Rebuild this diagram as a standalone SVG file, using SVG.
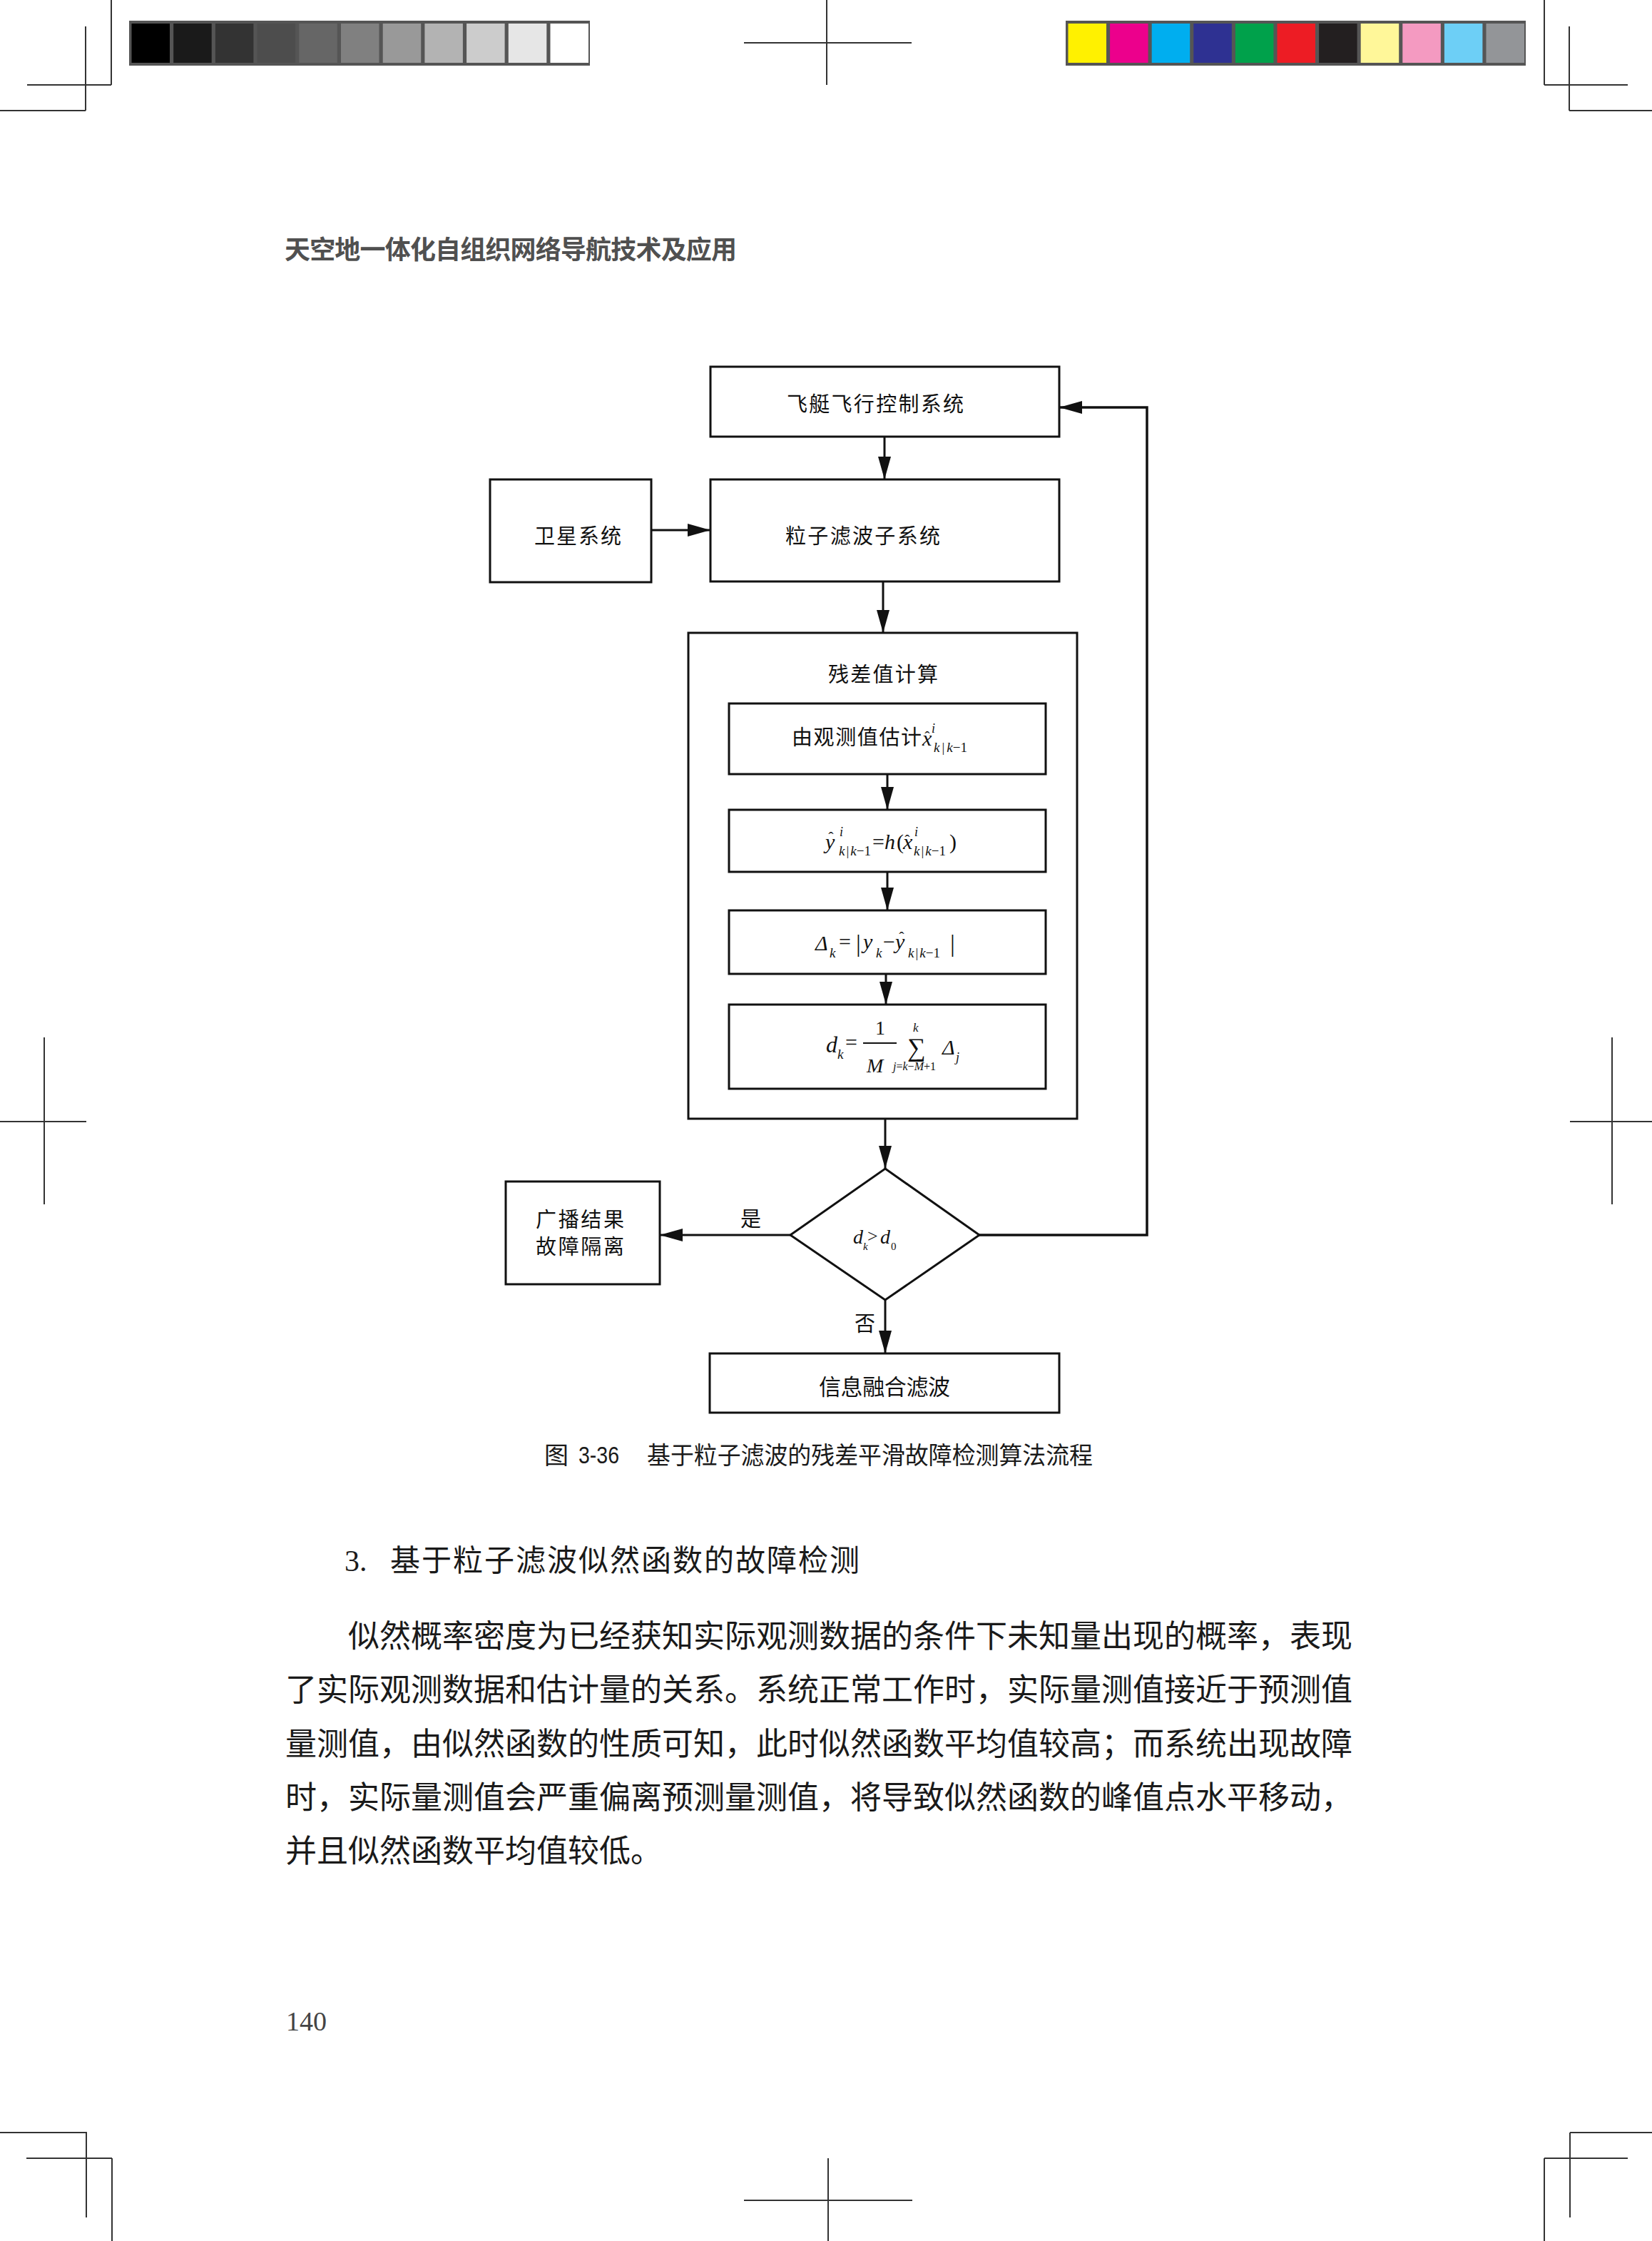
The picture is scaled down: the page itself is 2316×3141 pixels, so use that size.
<svg xmlns="http://www.w3.org/2000/svg" width="2316" height="3141" viewBox="0 0 2316 3141">
<style>
.box{fill:none;stroke:#111;stroke-width:3}
.conn{fill:none;stroke:#111;stroke-width:3}
.crop{stroke:#333;stroke-width:2;fill:none}
.cn{font-family:"Noto Sans CJK SC","Noto Sans CJK TC",sans-serif;fill:#111}
.mi{font-family:"Liberation Serif",serif;font-style:italic;fill:#111}
.mr{font-family:"Liberation Serif",serif;font-style:normal;fill:#111}
.body{font-family:"Noto Sans CJK SC",sans-serif;font-size:44px;fill:#1a1a1a}
</style>
<defs>
<marker id="arr" markerUnits="userSpaceOnUse" markerWidth="32" markerHeight="18" refX="32" refY="9" orient="auto">
<path d="M0,0 L32,9 L0,18 Z" fill="#111"/>
</marker>
</defs>
<rect width="2316" height="3141" fill="#fff"/>

<g id="crop-marks">
<path class="crop" d="M156,0 V119 M38,119 H156 M120,37 V155 M0,155 H120"/>
<path class="crop" d="M1159,0 V119 M1043,60 H1278"/>
<path class="crop" d="M2165,0 V119 M2165,119 H2282 M2200,37 V155 M2200,155 H2316"/>
<path class="crop" d="M62,1454 V1688 M0,1572 H121"/>
<path class="crop" d="M2260,1454 V1688 M2201,1572 H2316"/>
<path class="crop" d="M0,2989 H121 V3108 M37,3025 H157 M157,3025 V3141"/>
<path class="crop" d="M1161,3025 V3141 M1043,3084 H1279"/>
<path class="crop" d="M2201,2989 H2316 M2201,2989 V3108 M2165,3025 H2282 M2165,3025 V3141"/>
</g>

<g id="gray-bar">
<rect x="181" y="29" width="646" height="63" fill="#555"/>
<rect x="184.5" y="33" width="53.5" height="55" fill="#000"/>
<rect x="243.2" y="33" width="53.5" height="55" fill="#1a1a1a"/>
<rect x="301.9" y="33" width="53.5" height="55" fill="#333"/>
<rect x="360.6" y="33" width="53.5" height="55" fill="#4d4d4d"/>
<rect x="419.3" y="33" width="53.5" height="55" fill="#666"/>
<rect x="478" y="33" width="53.5" height="55" fill="#808080"/>
<rect x="536.7" y="33" width="53.5" height="55" fill="#999"/>
<rect x="595.4" y="33" width="53.5" height="55" fill="#b3b3b3"/>
<rect x="654.1" y="33" width="53.5" height="55" fill="#ccc"/>
<rect x="712.8" y="33" width="53.5" height="55" fill="#e6e6e6"/>
<rect x="771.5" y="33" width="53.5" height="55" fill="#fff"/>
</g>
<g id="color-bar">
<rect x="1494" y="29" width="645" height="63" fill="#555"/>
<rect x="1497.5" y="33" width="53.5" height="55" fill="#fff100"/>
<rect x="1556.1" y="33" width="53.5" height="55" fill="#ec008c"/>
<rect x="1614.7" y="33" width="53.5" height="55" fill="#00aeef"/>
<rect x="1673.3" y="33" width="53.5" height="55" fill="#2e3192"/>
<rect x="1731.9" y="33" width="53.5" height="55" fill="#00a14b"/>
<rect x="1790.5" y="33" width="53.5" height="55" fill="#ed1c24"/>
<rect x="1849.1" y="33" width="53.5" height="55" fill="#231f20"/>
<rect x="1907.7" y="33" width="53.5" height="55" fill="#fff799"/>
<rect x="1966.3" y="33" width="53.5" height="55" fill="#f49ac1"/>
<rect x="2024.9" y="33" width="53.5" height="55" fill="#6dcff6"/>
<rect x="2083.5" y="33" width="53.5" height="55" fill="#939598"/>
</g>

<text id="header" x="399" y="363" font-family="Noto Sans CJK SC, sans-serif" font-weight="700" font-size="36" fill="#505050" textLength="634" lengthAdjust="spacing">天空地一体化自组织网络导航技术及应用</text>

<g id="connectors">
<line class="conn" x1="1240" y1="612" x2="1240" y2="672" marker-end="url(#arr)"/>
<line class="conn" x1="913" y1="743" x2="996" y2="743" marker-end="url(#arr)"/>
<line class="conn" x1="1238" y1="815" x2="1238" y2="887" marker-end="url(#arr)"/>
<line class="conn" x1="1244" y1="1085" x2="1244" y2="1135" marker-end="url(#arr)"/>
<line class="conn" x1="1244" y1="1222" x2="1244" y2="1276" marker-end="url(#arr)"/>
<line class="conn" x1="1242" y1="1365" x2="1242" y2="1408" marker-end="url(#arr)"/>
<line class="conn" x1="1241" y1="1568" x2="1241" y2="1638" marker-end="url(#arr)"/>
<line class="conn" x1="1108" y1="1731" x2="925" y2="1731" marker-end="url(#arr)"/>
<line class="conn" x1="1241" y1="1822" x2="1241" y2="1897" marker-end="url(#arr)"/>
<polyline class="conn" style="stroke-width:3.5" points="1373,1731 1608,1731 1608,571 1485,571" marker-end="url(#arr)"/>
<text class="cn" x="1038" y="1719" font-size="29">是</text>
<text class="cn" x="1198" y="1866" font-size="29">否</text>
</g>

<g id="node-airship">
<rect class="box" x="996" y="514" width="489" height="98"/>
<text class="cn" x="1103" y="577" font-size="29" textLength="248" lengthAdjust="spacing">飞艇飞行控制系统</text>
</g>
<g id="node-pf">
<rect class="box" x="996" y="672" width="489" height="143"/>
<text class="cn" x="1101" y="762" font-size="29" textLength="217" lengthAdjust="spacing">粒子滤波子系统</text>
</g>
<g id="node-sat">
<rect class="box" x="687" y="672" width="226" height="144"/>
<text class="cn" x="749" y="762" font-size="29" textLength="122" lengthAdjust="spacing">卫星系统</text>
</g>

<g id="node-residual">
<rect class="box" x="965" y="887" width="545" height="681"/>
<text class="cn" x="1161" y="956" font-size="29" textLength="154" lengthAdjust="spacing">残差值计算</text>
</g>

<g id="node-step1">
<rect class="box" x="1022" y="986" width="444" height="99"/>
<text class="cn" x="1110" y="1044" font-size="29" textLength="182" lengthAdjust="spacing">由观测值估计</text>
<text class="mi" x="1293" y="1045" font-size="30">x</text>
<text class="mr" x="1300" y="1040" font-size="22" text-anchor="middle">ˆ</text>
<text class="mi" x="1306" y="1027" font-size="18">i</text>
<text class="mi" x="1309" y="1054" font-size="19">k<tspan class="mr" dx="3">|</tspan><tspan dx="3">k</tspan><tspan class="mr">−1</tspan></text>
</g>

<g id="node-step2">
<rect class="box" x="1022" y="1135" width="444" height="87"/>
<text class="mi" x="1157" y="1190" font-size="30">y</text>
<text class="mr" x="1165" y="1181" font-size="22" text-anchor="middle">ˆ</text>
<text class="mi" x="1177" y="1172" font-size="18">i</text>
<text class="mi" x="1176" y="1199" font-size="19">k<tspan class="mr" dx="2">|</tspan><tspan dx="2">k</tspan><tspan class="mr">−1</tspan></text>
<text class="mr" x="1223" y="1190" font-size="30">=</text>
<text class="mi" x="1240" y="1190" font-size="30">h</text>
<text class="mr" x="1257" y="1190" font-size="30">(</text>
<text class="mi" x="1266" y="1190" font-size="30">x</text>
<text class="mr" x="1272" y="1185" font-size="22" text-anchor="middle">ˆ</text>
<text class="mi" x="1282" y="1172" font-size="18">i</text>
<text class="mi" x="1281" y="1199" font-size="19">k<tspan class="mr" dx="2">|</tspan><tspan dx="2">k</tspan><tspan class="mr">−1</tspan></text>
<text class="mr" x="1331" y="1190" font-size="30">)</text>
</g>

<g id="node-step3">
<rect class="box" x="1022" y="1276" width="444" height="89"/>
<text class="mi" x="1143" y="1332" font-size="30">Δ</text>
<text class="mi" x="1163" y="1342" font-size="19">k</text>
<text class="mr" x="1176" y="1330" font-size="30">=</text>
<text class="mr" x="1200" y="1334" font-size="34">|</text>
<text class="mi" x="1210" y="1330" font-size="30">y</text>
<text class="mi" x="1228" y="1342" font-size="19">k</text>
<text class="mr" x="1238" y="1330" font-size="30">−</text>
<text class="mi" x="1255" y="1330" font-size="30">y</text>
<text class="mr" x="1264" y="1321" font-size="22" text-anchor="middle">ˆ</text>
<text class="mi" x="1273" y="1342" font-size="19">k<tspan class="mr" dx="2">|</tspan><tspan dx="2">k</tspan><tspan class="mr">−1</tspan></text>
<text class="mr" x="1332" y="1334" font-size="34">|</text>
</g>

<g id="node-step4">
<rect class="box" x="1022" y="1408" width="444" height="118"/>
<text class="mi" x="1158" y="1475" font-size="32">d</text>
<text class="mi" x="1174" y="1484" font-size="19">k</text>
<text class="mr" x="1185" y="1471" font-size="30">=</text>
<line x1="1210" y1="1462" x2="1257" y2="1462" stroke="#111" stroke-width="2"/>
<text class="mr" x="1227" y="1450" font-size="28">1</text>
<text class="mi" x="1215" y="1503" font-size="28">M</text>
<text class="mr" x="1272" y="1480" font-size="36">∑</text>
<text class="mi" x="1280" y="1446" font-size="17">k</text>
<text class="mi" x="1252" y="1500" font-size="16">j<tspan class="mr">=</tspan>k<tspan class="mr">−</tspan>M<tspan class="mr">+1</tspan></text>
<text class="mi" x="1321" y="1478" font-size="30">Δ</text>
<text class="mi" x="1340" y="1488" font-size="18">j</text>
</g>

<g id="node-decision">
<polygon class="box" points="1241,1638 1373,1731 1241,1822 1108,1731"/>
<text class="mi" x="1196" y="1743" font-size="28">d</text>
<text class="mi" x="1210" y="1752" font-size="15">k</text>
<text class="mr" x="1216" y="1741" font-size="26">&gt;</text>
<text class="mi" x="1234" y="1743" font-size="28">d</text>
<text class="mr" x="1249" y="1752" font-size="15">0</text>
</g>

<g id="node-broadcast">
<rect class="box" x="709" y="1656" width="216" height="144"/>
<text class="cn" x="751" y="1720" font-size="29" textLength="124" lengthAdjust="spacing">广播结果</text>
<text class="cn" x="751" y="1758" font-size="29" textLength="124" lengthAdjust="spacing">故障隔离</text>
</g>

<g id="node-fusion">
<rect class="box" x="995" y="1897" width="490" height="83"/>
<text class="cn" x="1148" y="1955" font-size="31" textLength="184" lengthAdjust="spacing">信息融合滤波</text>
</g>

<g id="caption">
<text x="763" y="2052" font-family="Noto Sans CJK SC, sans-serif" font-size="34" fill="#1a1a1a">图</text>
<text x="811" y="2051" font-family="Liberation Sans, sans-serif" font-size="34" fill="#1a1a1a" textLength="57" lengthAdjust="spacingAndGlyphs">3-36</text>
<text x="907" y="2052" font-family="Noto Sans CJK SC, sans-serif" font-size="34" fill="#1a1a1a" textLength="625" lengthAdjust="spacingAndGlyphs">基于粒子滤波的残差平滑故障检测算法流程</text>
</g>

<g id="text-body">
<text x="483" y="2202" font-family="Liberation Serif, serif" font-size="42" fill="#1a1a1a">3.</text>
<text x="547" y="2202" font-family="Noto Sans CJK SC, sans-serif" font-size="42" fill="#1a1a1a" textLength="658" lengthAdjust="spacing">基于粒子滤波似然函数的故障检测</text>
<text class="body" x="488" y="2309" textLength="1408" lengthAdjust="spacing">似然概率密度为已经获知实际观测数据的条件下未知量出现的概率，表现</text>
<text class="body" x="400" y="2384" textLength="1496" lengthAdjust="spacing">了实际观测数据和估计量的关系。系统正常工作时，实际量测值接近于预测值</text>
<text class="body" x="400" y="2460" textLength="1496" lengthAdjust="spacing">量测值，由似然函数的性质可知，此时似然函数平均值较高；而系统出现故障</text>
<text class="body" x="400" y="2535" textLength="1496" lengthAdjust="spacing">时，实际量测值会严重偏离预测量测值，将导致似然函数的峰值点水平移动，</text>
<text class="body" x="400" y="2610">并且似然函数平均值较低。</text>
<text x="401" y="2846" font-family="Liberation Serif, serif" font-size="38" fill="#444">140</text>
</g>
</svg>
